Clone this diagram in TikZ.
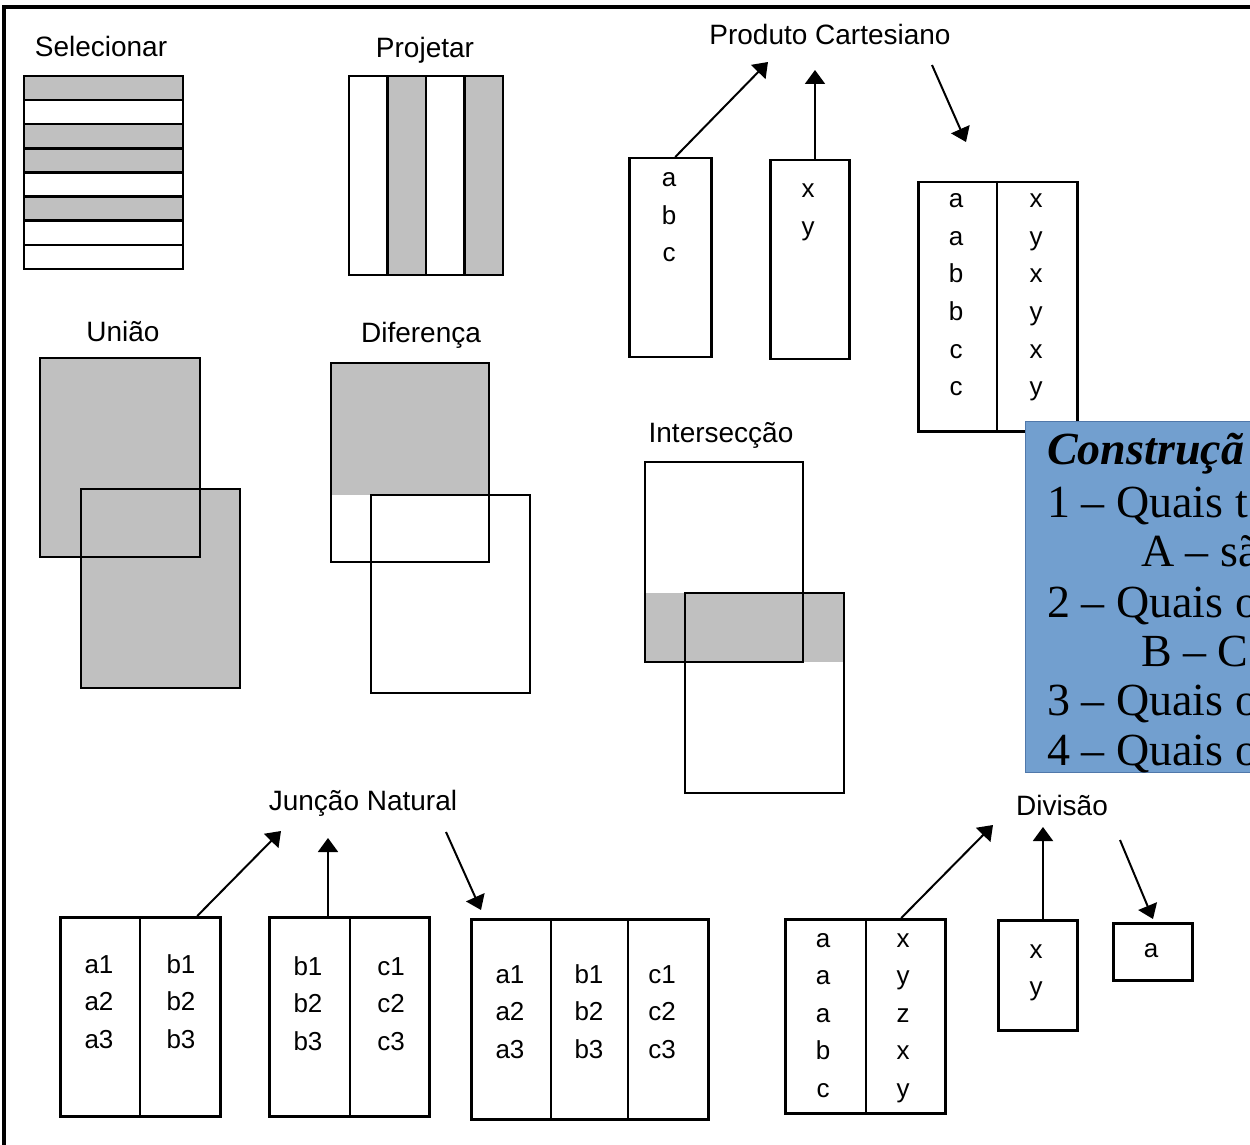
\documentclass[tikz,border=0pt]{standalone}
\usepackage{fontspec}
\setmainfont{Liberation Sans}
\newfontfamily\qfont{Liberation Serif}
\usetikzlibrary{arrows.meta, positioning}
\definecolor{cellgray}{RGB}{192,192,192}
\definecolor{qblue}{RGB}{114,159,207}
\definecolor{qedge}{RGB}{80,120,170}
\newcommand{\colcells}[4]{%
  \foreach \txt [count=\i] in {#4}
    \node[cell] (#1-\i) at (#2, {#3+37.5*(\i-1)}) {\txt};}

\begin{document}
\begin{tikzpicture}[
    x=0.5pt, y=-0.5pt,
    line width=1.25pt,
    >={Triangle[length=7pt, width=10pt]},
    lbl/.style={font=\fontsize{14}{16}\selectfont, anchor=base, inner sep=0pt},
    cell/.style={font=\fontsize{13}{15}\selectfont, anchor=base, inner sep=0pt},
    tbl/.style 2 args={draw, rectangle, anchor=north west, inner sep=0pt,
      minimum width=#1, minimum height=#2},
    arr/.style={->, line width=1pt},
    shade/.style={fill=cellgray},
    qline/.style={font=\qfont\fontsize{23}{27}\selectfont, anchor=base west, inner sep=0pt}]

    \useasboundingbox (0,0) rectangle (1250,1145);
    \clip (0,0) rectangle (1250,1145);

    % frame
    \draw[line width=2pt] (3.7,1145) -- (3.7,7) -- (1250,7);

    % Selecionar
    \node[lbl] (sel) at (101,57) {Selecionar};
    \foreach \i in {0,2,3,5}
      \fill[shade] (24,{76+24.125*\i}) rectangle (183,{100.125+24.125*\i});
    \foreach \i in {1,...,7}
      \draw (24,{76+24.125*\i}) -- (183,{76+24.125*\i});
    \draw (24,76) rectangle (183,269);

    % Projetar
    \node[lbl] (proj) at (425,58) {Projetar};
    \fill[shade] (387.5,76) rectangle (426,275);
    \fill[shade] (464.5,76) rectangle (503,275);
    \foreach \x in {387.5,426,464.5}
      \draw (\x,76) -- (\x,275);
    \draw (349,76) rectangle (503,275);

    % Uniao
    \node[lbl] (uni) at (123,342) {União};
    \fill[shade] (40,358) rectangle (200,557);
    \fill[shade] (81,489) rectangle (240,688);
    \draw (40,358) rectangle (200,557);
    \draw (81,489) rectangle (240,688);

    % Diferenca
    \node[lbl] (dif) at (421,343) {Diferença};
    \fill[shade] (331,363) rectangle (489,495);
    \draw (331,363) rectangle (489,562);
    \draw (371,495) rectangle (530,693);

    % Interseccao
    \node[lbl] (inter) at (721,443) {Intersecção};
    \fill[shade] (645,593) rectangle (844,662);
    \draw (645,462) rectangle (803,662);
    \draw (685,593) rectangle (844,793);

    % Produto Cartesiano
    \node[lbl] (pc) at (830,45) {Produto Cartesiano};
    \node[tbl={41pt}{99.5pt}] (pc-r) at (628,157) {};
    \node[tbl={39.5pt}{99.5pt}] (pc-s) at (769,159) {};
    \node[tbl={79.5pt}{124.5pt}] (pc-out) at (917,181) {};
    \draw ([xshift=40pt]pc-out.north west) -- ([xshift=40pt]pc-out.south west);
    \colcells{pc-r}{669}{187}{a,b,c}
    \colcells{pc-s}{808}{198}{x,y}
    \colcells{pc-a}{956}{208}{a,a,b,b,c,c}
    \colcells{pc-b}{1036}{208}{x,y,x,y,x,y}
    \coordinate (pc-in1) at (768,62);
    \coordinate (pc-in2) at (815,70);
    \coordinate (pc-from) at (932,65);
    \coordinate (pc-to) at (966,142);
    \draw[arr] ([xshift=2.5pt]pc-r.north) -- (pc-in1);
    \draw[arr] (pc-s.north -| pc-in2) -- (pc-in2);
    \draw[arr] (pc-from) -- (pc-to);

    % Juncao Natural
    \node[lbl] (jn) at (363,810) {Junção Natural};
    \node[tbl={80pt}{99.5pt}] (jn-r) at (59,916) {};
    \draw ([xshift=40.5pt]jn-r.north west) -- ([xshift=40.5pt]jn-r.south west);
    \node[tbl={80pt}{99.5pt}] (jn-s) at (268,916) {};
    \draw ([xshift=41pt]jn-s.north west) -- ([xshift=41pt]jn-s.south west);
    \node[tbl={118.5pt}{100pt}] (jn-out) at (470,918) {};
    \draw ([xshift=40.5pt]jn-out.north west) -- ([xshift=40.5pt]jn-out.south west);
    \draw ([xshift=79pt]jn-out.north west) -- ([xshift=79pt]jn-out.south west);
    \colcells{jn-ra}{99}{973}{a1,a2,a3}
    \colcells{jn-rb}{181}{973}{b1,b2,b3}
    \colcells{jn-sb}{308}{975}{b1,b2,b3}
    \colcells{jn-sc}{391}{975}{c1,c2,c3}
    \colcells{jn-a}{510}{983}{a1,a2,a3}
    \colcells{jn-b}{589}{983}{b1,b2,b3}
    \colcells{jn-c}{662}{983}{c1,c2,c3}
    \coordinate (jn-in1) at (281,831);
    \coordinate (jn-in2) at (328,838);
    \coordinate (jn-from) at (446,832);
    \coordinate (jn-to) at (481,910);
    \draw[arr] ([xshift=28.5pt]jn-r.north) -- (jn-in1);
    \draw[arr] (jn-s.north -| jn-in2) -- (jn-in2);
    \draw[arr] (jn-from) -- (jn-to);

    % Divisao
    \node[lbl] (dv) at (1062,815) {Divisão};
    \node[tbl={80pt}{97pt}] (dv-r) at (784,918) {};
    \draw ([xshift=41pt]dv-r.north west) -- ([xshift=41pt]dv-r.south west);
    \node[tbl={39.5pt}{55pt}] (dv-s) at (997,919) {};
    \node[tbl={39.5pt}{28.5pt}] (dv-q) at (1112,922) {};
    \colcells{dv-a}{823}{947}{a,a,a,b,c}
    \colcells{dv-b}{903}{947}{x,y,z,x,y}
    \colcells{dv-x}{1036}{958}{x,y}
    \colcells{dv-y}{1151}{957}{a}
    \coordinate (dv-in1) at (993,825);
    \coordinate (dv-in2) at (1043,827);
    \coordinate (dv-from) at (1120,840);
    \coordinate (dv-to) at (1153,919);
    \draw[arr] ([xshift=18pt]dv-r.north) -- (dv-in1);
    \draw[arr] (dv-s.north -| dv-in2) -- (dv-in2);
    \draw[arr] (dv-from) -- (dv-to);

    % questions
    \node[draw=qedge, fill=qblue, line width=0.5pt, anchor=north west, inner sep=0pt,
      minimum width=150pt, minimum height=175.5pt] (qs) at (1025,421) {};
    \node[qline] (q0) at (1046,465) {\bfseries\itshape Construçã};
    \node[qline] (q1) at (1046,517) {1 – Quais t};
    \node[qline] (q2) at (1140,567) {A – sã};
    \node[qline] (q3) at (1046,617) {2 – Quais o};
    \node[qline] (q4) at (1140,666) {B – C};
    \node[qline] (q5) at (1046,715) {3 – Quais o};
    \node[qline] (q6) at (1046,765) {4 – Quais o};
\end{tikzpicture}
\end{document}
